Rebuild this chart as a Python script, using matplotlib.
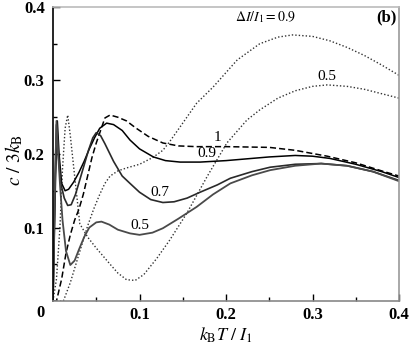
import matplotlib.pyplot as plt
import matplotlib as mpl

mpl.rcParams['font.family'] = ['Liberation Serif', 'DejaVu Serif']
mpl.rcParams['mathtext.fontset'] = 'stix'

# dI/I1 = 1 (dashed)
x_10 = [0, 0.004, 0.01, 0.015, 0.02, 0.025, 0.03, 0.035, 0.04, 0.045, 0.05, 0.055, 0.06,
        0.066, 0.075, 0.085, 0.095, 0.11, 0.127, 0.145, 0.166, 0.2, 0.25, 0.28, 0.317,
        0.35, 0.38, 0.4]
c_10 = [0, 0.0, 0.03, 0.065, 0.09, 0.11, 0.125, 0.145, 0.17, 0.195, 0.215, 0.232, 0.249,
        0.253, 0.25, 0.245, 0.236, 0.224, 0.215, 0.211, 0.21, 0.21, 0.209, 0.205, 0.197,
        0.188, 0.177, 0.17]

# dI/I1 = 0.9 (solid)
x_09 = [0, 0.003, 0.005, 0.007, 0.01, 0.014, 0.018, 0.024, 0.03, 0.036, 0.042, 0.048, 0.054,
        0.062, 0.07, 0.08, 0.089, 0.1, 0.116, 0.13, 0.147, 0.17, 0.2, 0.25, 0.28, 0.3, 0.32,
        0.35, 0.38, 0.4]
c_09 = [0, 0.17, 0.245, 0.2, 0.16, 0.15, 0.152, 0.162, 0.175, 0.19, 0.207, 0.222, 0.235,
        0.242, 0.24, 0.232, 0.219, 0.207, 0.196, 0.191, 0.189, 0.189, 0.191, 0.196, 0.198,
        0.197, 0.194, 0.186, 0.176, 0.168]

# dI/I1 = 0.7 (solid)
x_07 = [0, 0.002, 0.004, 0.006, 0.009, 0.013, 0.017, 0.021, 0.026, 0.031, 0.036, 0.041, 0.046,
        0.05, 0.055, 0.06, 0.07, 0.08, 0.089, 0.1, 0.113, 0.127, 0.14, 0.155, 0.17, 0.19,
        0.205, 0.23, 0.251, 0.28, 0.31, 0.34, 0.37, 0.4]
c_07 = [0, 0.15, 0.24, 0.2, 0.16, 0.14, 0.13, 0.131, 0.145, 0.165, 0.185, 0.205, 0.222,
        0.229, 0.225, 0.214, 0.19, 0.17, 0.16, 0.148, 0.138, 0.134, 0.135, 0.14, 0.148, 0.158,
        0.167, 0.176, 0.182, 0.186, 0.187, 0.184, 0.176, 0.164]

# dI/I1 = 0.5 (solid)
x_05 = [0, 0.002, 0.004, 0.006, 0.008, 0.011, 0.015, 0.02, 0.025, 0.03, 0.036, 0.042, 0.05,
        0.056, 0.065, 0.075, 0.089, 0.1, 0.115, 0.127, 0.145, 0.166, 0.185, 0.205, 0.23,
        0.251, 0.28, 0.31, 0.34, 0.37, 0.4]
c_05 = [0, 0.14, 0.245, 0.2, 0.16, 0.11, 0.068, 0.049, 0.055, 0.07, 0.087, 0.1, 0.107,
        0.108, 0.104, 0.097, 0.092, 0.09, 0.093, 0.099, 0.112, 0.128, 0.145, 0.16, 0.171,
        0.178, 0.184, 0.187, 0.184, 0.176, 0.163]

# dotted, dI/I1 = 0.9
xd_09 = [0, 0.012, 0.02, 0.028, 0.035, 0.04, 0.047, 0.054, 0.06, 0.066, 0.075, 0.085, 0.1,
         0.115, 0.127, 0.135, 0.147, 0.166, 0.185, 0.213, 0.239, 0.26, 0.277, 0.3, 0.32,
         0.34, 0.36, 0.38, 0.4]
cd_09 = [0, 0, 0.025, 0.056, 0.083, 0.102, 0.125, 0.145, 0.16, 0.17, 0.177, 0.181, 0.186,
         0.195, 0.205, 0.217, 0.237, 0.269, 0.291, 0.328, 0.35, 0.359, 0.362, 0.36, 0.354,
         0.345, 0.334, 0.321, 0.307]

# dotted, dI/I1 = 0.5
xd_05 = [0, 0.004, 0.008, 0.011, 0.014, 0.017, 0.02, 0.025, 0.031, 0.04, 0.05, 0.066, 0.075,
         0.085, 0.095, 0.105, 0.12, 0.135, 0.155, 0.178, 0.201, 0.224, 0.239, 0.26, 0.28,
         0.3, 0.317, 0.34, 0.36, 0.38, 0.4]
cd_05 = [0, 0.03, 0.1, 0.18, 0.235, 0.253, 0.225, 0.17, 0.105, 0.087, 0.072, 0.05, 0.038,
         0.029, 0.028, 0.036, 0.058, 0.083, 0.12, 0.169, 0.215, 0.246, 0.26, 0.276, 0.286,
         0.292, 0.294, 0.292, 0.288, 0.282, 0.276]

fig = plt.figure(figsize=(4.09, 3.49), dpi=100)
ax = fig.add_axes([0.1296, 0.1375, 0.846, 0.8425])

ax.plot(xd_09, cd_09, color='#333333', lw=1.0, ls=(0, (1, 1.5)))
ax.plot(xd_05, cd_05, color='#333333', lw=1.0, ls=(0, (1, 1.5)))
ax.plot(x_10, c_10, color='black', lw=1.1, ls=(0, (4, 2)))
ax.plot(x_09, c_09, color='black', lw=1.1)
ax.plot(x_07, c_07, color='#2a2a2a', lw=1.2)
ax.plot(x_05, c_05, color='#4a4a4a', lw=1.3)

ax.set_xlim(0, 0.4)
ax.set_ylim(0, 0.4)
ax.set_xticks([0.1, 0.2, 0.3, 0.4])
ax.set_xticks([0.05, 0.15, 0.25, 0.35], minor=True)
ax.set_yticks([0.1, 0.2, 0.3, 0.4])
ax.set_yticks([0.05, 0.15, 0.25, 0.35], minor=True)
ax.set_xticklabels(['0.1', '0.2', '0.3', '0.4'], fontsize=12, fontweight='bold')
ax.set_yticklabels(['0.1', '0.2', '0.3', '0.4'], fontsize=12, fontweight='bold')
ax.tick_params(which='major', direction='in', length=5, width=1, pad=6)
ax.tick_params(axis='x', which='major', pad=4)
ax.tick_params(which='minor', direction='in', length=3, width=1)
ax.text(-0.025, -0.012, '0', transform=ax.transAxes, ha='right', va='top',
        fontsize=12, fontweight='bold')

ax.spines['left'].set_color('black')
ax.spines['left'].set_linewidth(1.2)
ax.spines['bottom'].set_color('#888888')
ax.spines['top'].set_color('#bbbbbb')
ax.spines['right'].set_color('#999999')
for s in ['bottom', 'top', 'right']:
    ax.spines[s].set_linewidth(1.2)

ax.set_xlabel(r'$k_{\rm B}T\ /\ I_1$', fontsize=13)
ax.set_ylabel(r'$c\ /\ 3k_{\rm B}$', fontsize=14)
ax.xaxis.set_label_coords(0.5, -0.085)
ax.yaxis.set_label_coords(-0.08, 0.48)

ax.text(0.245, 0.386, r'$\Delta I/I_1 = 0.9$', fontsize=10, ha='center', va='center')
ax.text(0.317, 0.306, '0.5', fontsize=11, ha='center', va='center')
ax.text(0.386, 0.386, '(b)', fontsize=12, fontweight='bold', ha='center', va='center')
ax.text(0.19, 0.223, '1', fontsize=11, ha='center', va='center')
ax.text(0.178, 0.2, '0.9', fontsize=11, ha='center', va='center')
ax.text(0.124, 0.148, '0.7', fontsize=11, ha='center', va='center')
ax.text(0.1, 0.103, '0.5', fontsize=11, ha='center', va='center')

fig.savefig('out.png', dpi=100)
